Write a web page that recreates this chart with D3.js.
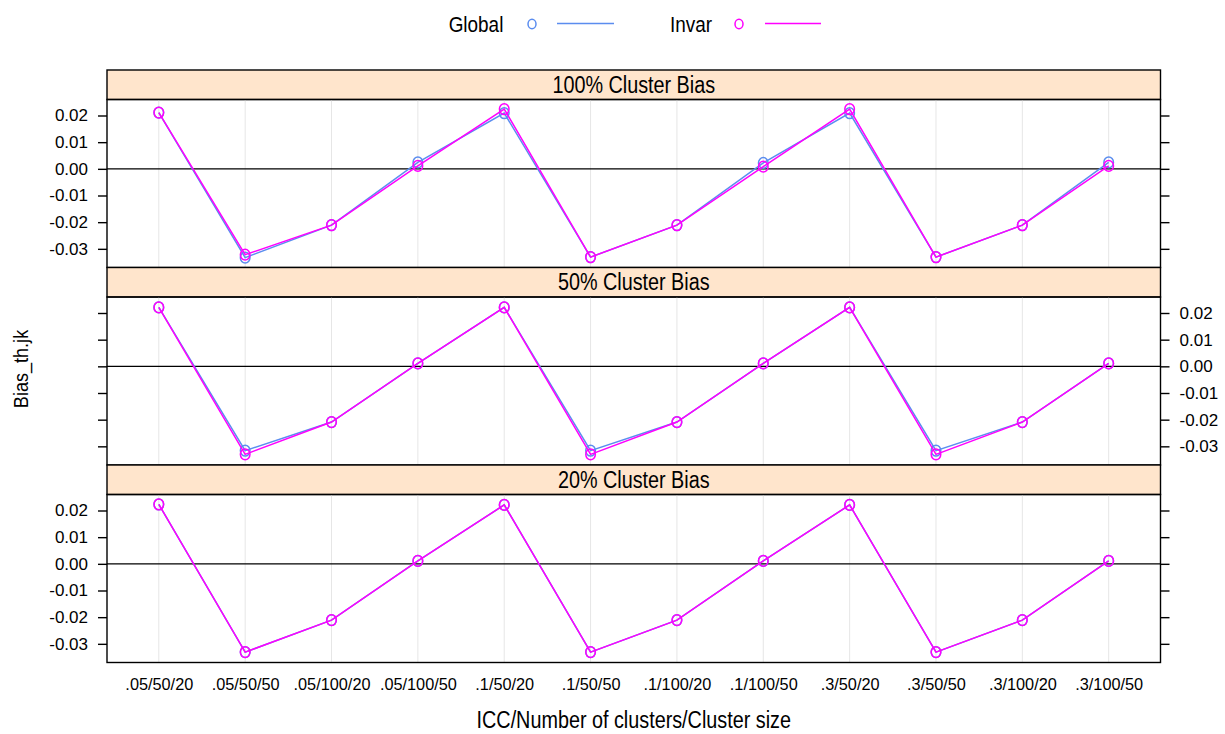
<!DOCTYPE html>
<html>
<head>
<meta charset="utf-8">
<script src="https://cdn.jsdelivr.net/npm/d3@7"></script>
<style>
  html, body { margin: 0; padding: 0; background: #ffffff; }
  svg { display: block; font-family: "Liberation Sans", Arial, sans-serif; }
</style>
</head>
<body>
<svg id="chart" width="1225" height="734"></svg>
<script>
// Design conditions along the x axis: ICC / number of clusters / cluster size
const categories = [".05/50/20", ".05/50/50", ".05/100/20", ".05/100/50",
                    ".1/50/20", ".1/50/50", ".1/100/20", ".1/100/50",
                    ".3/50/20", ".3/50/50", ".3/100/20", ".3/100/50"];

const panelTitles = ["100% Cluster Bias", "50% Cluster Bias", "20% Cluster Bias"];
const seriesNames = ["Global", "Invar"];

// Bias_th.jk per condition, one array per panel and method
const global100 = [0.0211, -0.0333, -0.0211, 0.0024, 0.0209, -0.0331, -0.0211, 0.0022, 0.0209, -0.0331, -0.0211, 0.0024];
const invar100  = [0.0211, -0.0322, -0.0211, 0.0011, 0.0224, -0.0331, -0.0211, 0.0008, 0.0224, -0.0331, -0.0211, 0.0011];
const global50  = [0.0221, -0.0316, -0.0209, 0.0011, 0.0221, -0.0316, -0.0209, 0.0011, 0.0221, -0.0316, -0.0209, 0.0011];
const invar50   = [0.0221, -0.0330, -0.0209, 0.0011, 0.0221, -0.0330, -0.0209, 0.0011, 0.0221, -0.0330, -0.0209, 0.0011];
const global20  = [0.0223, -0.0331, -0.0211, 0.0011, 0.0221, -0.0331, -0.0211, 0.0011, 0.0221, -0.0331, -0.0211, 0.0011];
const invar20   = [0.0223, -0.0331, -0.0211, 0.0011, 0.0221, -0.0331, -0.0211, 0.0011, 0.0221, -0.0331, -0.0211, 0.0011];

const yTicks = [-0.03, -0.02, -0.01, 0.00, 0.01, 0.02];

const panelSeries = [[global100, invar100], [global50, invar50], [global20, invar20]];
const colors = ["#5b8def", "#ff00ff"];

const svg = d3.select("#chart");
const FONT = "'Liberation Sans', Arial, sans-serif";
const SQUEEZE = 0.86;

// narrow the glyphs horizontally, like the condensed title face
function squeeze(sel) {
  sel.each(function () {
    const w = this.getComputedTextLength();
    this.setAttribute("textLength", (w * SQUEEZE).toFixed(2));
    this.setAttribute("lengthAdjust", "spacingAndGlyphs");
  });
  return sel;
}

// layout of the stacked panels
const left = 107, right = 1160.5;
const top0 = 70, stripH = 29.5, panelH = 168;

const x = d3.scaleLinear().domain([0.4, categories.length + 0.6]).range([left, right]);

panelTitles.forEach((title, i) => {
  const stripTop = top0 + i * (stripH + panelH);
  const pTop = stripTop + stripH;
  const pBot = pTop + panelH;
  const y = d3.scaleLinear().domain([-0.0370, 0.0260]).range([pBot, pTop]);
  const g = svg.append("g");

  // strip
  g.append("rect")
    .attr("x", left).attr("y", stripTop)
    .attr("width", right - left).attr("height", stripH)
    .attr("fill", "#ffe5cc").attr("stroke", "#000").attr("stroke-width", 1.4);
  g.append("text")
    .attr("x", (left + right) / 2).attr("y", stripTop + stripH / 2 + 8)
    .attr("text-anchor", "middle")
    .attr("font-size", 23).attr("fill", "#000")
    .text(title)
    .call(squeeze);

  // vertical reference grid
  g.selectAll("line.grid")
    .data(d3.range(1, categories.length + 1))
    .join("line")
    .attr("class", "grid")
    .attr("x1", d => x(d)).attr("x2", d => x(d))
    .attr("y1", pTop).attr("y2", pBot)
    .attr("stroke", "#e6e6e6").attr("stroke-width", 1);

  // zero reference line
  g.append("line")
    .attr("x1", left).attr("x2", right)
    .attr("y1", y(0)).attr("y2", y(0))
    .attr("stroke", "#000").attr("stroke-width", 1.4);

  // series lines and open points
  panelSeries[i].forEach((vals, s) => {
    const line = d3.line().x((d, k) => x(k + 1)).y(d => y(d));
    g.append("path")
      .datum(vals)
      .attr("d", line)
      .attr("fill", "none")
      .attr("stroke", colors[s]).attr("stroke-width", 1.5);
    g.selectAll("ellipse.s" + s)
      .data(vals)
      .join("ellipse")
      .attr("class", "s" + s)
      .attr("cx", (d, k) => x(k + 1)).attr("cy", d => y(d))
      .attr("rx", 4.8).attr("ry", 5.4)
      .attr("fill", "none")
      .attr("stroke", colors[s]).attr("stroke-width", 1.5);
  });

  // panel border
  g.append("rect")
    .attr("x", left).attr("y", pTop)
    .attr("width", right - left).attr("height", panelH)
    .attr("fill", "none").attr("stroke", "#000").attr("stroke-width", 1.4);

  // y axes: labels alternate between the left and right side
  const labelLeft = (i % 2 === 0);
  const fmt = d => d.toFixed(2);
  const axL = d3.axisLeft(y).tickValues(yTicks).tickSize(9).tickPadding(10)
    .tickFormat(labelLeft ? fmt : () => "");
  const axR = d3.axisRight(y).tickValues(yTicks).tickSize(9).tickPadding(10)
    .tickFormat(labelLeft ? () => "" : fmt);
  [[axL, left], [axR, right]].forEach(([ax, xpos]) => {
    const a = g.append("g").attr("transform", `translate(${xpos},0)`).call(ax);
    a.select(".domain").remove();
    a.selectAll("line").attr("stroke", "#000").attr("stroke-width", 1.4);
    a.selectAll("text").attr("font-size", 17).attr("font-family", FONT).attr("fill", "#000");
  });

  // category labels under the last panel
  if (i === panelTitles.length - 1) {
    const axB = d3.axisBottom(x)
      .tickValues(d3.range(1, categories.length + 1))
      .tickSize(0).tickPadding(15.5)
      .tickFormat(d => categories[d - 1]);
    const b = g.append("g").attr("transform", `translate(0,${pBot})`).call(axB);
    b.select(".domain").remove();
    b.selectAll("text").attr("font-size", 16.3).attr("font-family", FONT).attr("fill", "#000");
  }
});

// axis titles
svg.append("text")
  .attr("x", (left + right) / 2).attr("y", 728)
  .attr("text-anchor", "middle")
  .attr("font-size", 23).attr("fill", "#000")
  .text("ICC/Number of clusters/Cluster size")
  .call(squeeze);

svg.append("text")
  .attr("transform", "translate(28,369) rotate(-90)")
  .attr("text-anchor", "middle")
  .attr("font-size", 21).attr("fill", "#000")
  .text("Bias_th.jk")
  .call(squeeze);

// legend
const legendItems = [
  { textX: 476, ptX: 532, lineX1: 557, lineX2: 614 },
  { textX: 691, ptX: 739, lineX1: 765, lineX2: 821 }
];
legendItems.forEach((L, s) => {
  const lg = svg.append("g");
  lg.append("text")
    .attr("x", L.textX).attr("y", 31.5)
    .attr("text-anchor", "middle")
    .attr("font-size", 22).attr("fill", "#000")
    .text(seriesNames[s])
    .call(squeeze);
  lg.append("ellipse")
    .attr("cx", L.ptX).attr("cy", 24)
    .attr("rx", 4).attr("ry", 4.8)
    .attr("fill", "none").attr("stroke", colors[s]).attr("stroke-width", 1.5);
  lg.append("line")
    .attr("x1", L.lineX1).attr("x2", L.lineX2)
    .attr("y1", 23.5).attr("y2", 23.5)
    .attr("stroke", colors[s]).attr("stroke-width", 1.5);
});
</script>
</body>
</html>
